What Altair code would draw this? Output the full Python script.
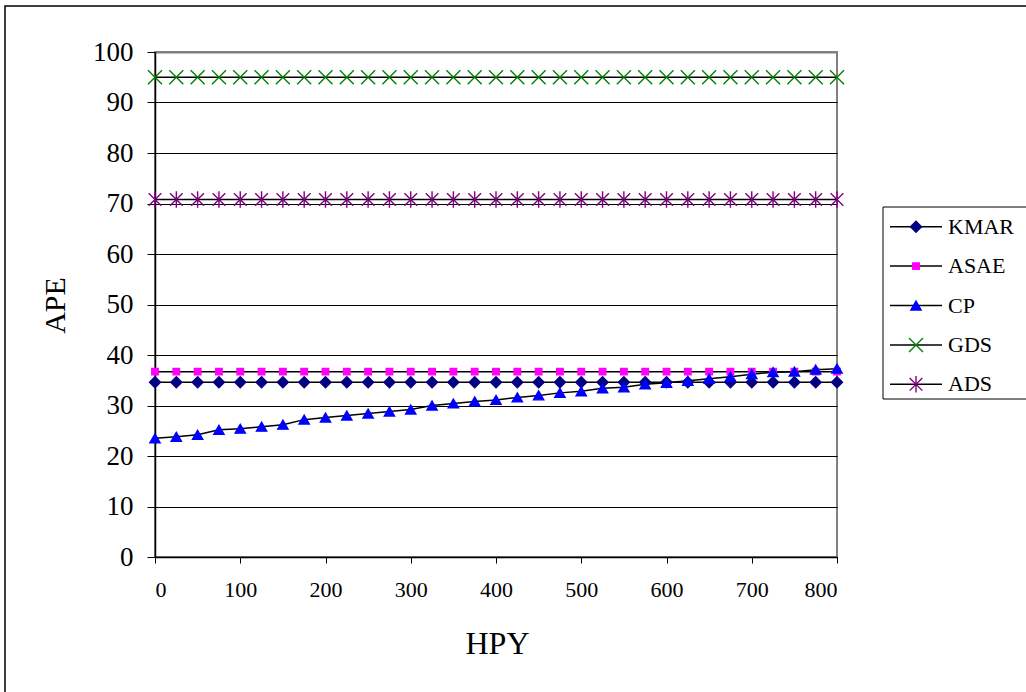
import altair as alt
import pandas as pd

series = ["KMAR", "ASAE", "CP", "GDS", "ADS"]
colors = ["#000080", "#FF00FF", "#0000FF", "#008000", "#800080"]
shapes = ["diamond", "square", "triangle-up",
          "M-1,-1L1,1M-1,1L1,-1",
          "M-1,-1L1,1M-1,1L1,-1M0,-1.3L0,1.3"]
sizes = [120, 42, 105, 196, 160]

hpy = [0, 25, 50, 75, 100, 125, 150, 175, 200, 225, 250, 275, 300, 325, 350,
       375, 400, 425, 450, 475, 500, 525, 550, 575, 600, 625, 650, 675, 700,
       725, 750, 775, 800]
kmar = [34.6] * 33
asae = [36.7] * 33
cp = [23.5, 23.8, 24.2, 25.2, 25.4, 25.8, 26.2, 27.2, 27.6, 28.0, 28.4, 28.8,
      29.2, 30.0, 30.4, 30.8, 31.1, 31.6, 32.0, 32.5, 32.8, 33.4, 33.6, 34.2,
      34.5, 34.9, 35.3, 35.7, 36.2, 36.6, 36.7, 37.1, 37.3]
gds = [95.0] * 33
ads = [70.8] * 33

values = {"KMAR": kmar, "ASAE": asae, "CP": cp, "GDS": gds, "ADS": ads}
rows = []
for s in series:
    for x, v in zip(hpy, values[s]):
        rows.append({"HPY": x, "APE": v, "series": s})
df = pd.DataFrame(rows)

FONT = "Liberation Serif"

color_scale = alt.Scale(domain=series, range=colors)
shape_scale = alt.Scale(domain=series, range=shapes)
size_scale = alt.Scale(type="ordinal", domain=series, range=sizes)

x_enc = alt.X("HPY:Q", scale=alt.Scale(domain=[0, 800], nice=False),
              axis=alt.Axis(values=[0, 100, 200, 300, 400, 500, 600, 700, 800],
                            grid=False, tickSize=6, labelPadding=16,
                            labelFontSize=22, title="HPY", titleFontSize=32,
                            titleX=342, titleY=86, titleBaseline="middle",
                            titleAlign="center"))
y_enc = alt.Y("APE:Q", scale=alt.Scale(domain=[0, 100], nice=False),
              axis=alt.Axis(values=list(range(0, 101, 10)), grid=True,
                            gridColor={"condition": {"test": "datum.value === 100",
                                                     "value": "#808080"},
                                       "value": "black"},
                            gridWidth={"condition": {"test": "datum.value === 100",
                                                     "value": 2},
                                       "value": 1},
                            tickSize=8, labelPadding=14, labelFontSize=27,
                            title="APE", titleFontSize=30, titleX=-100,
                            titleY=253, titleAngle=270, titleBaseline="middle",
                            titleAlign="center"))

base = alt.Chart(df)
lines = base.mark_line(color="black", strokeWidth=1.5).encode(
    x=x_enc, y=y_enc, detail="series:N",
    order=alt.Order("HPY:Q"))
points = base.mark_point(filled=True, strokeWidth=1.4, opacity=1).encode(
    x="HPY:Q", y="APE:Q",
    fill=alt.Fill("series:N", scale=color_scale, legend=None),
    stroke=alt.Stroke("series:N", scale=color_scale, legend=None),
    shape=alt.Shape("series:N", scale=shape_scale, legend=None),
    size=alt.Size("series:N", scale=size_scale, legend=None))
main = alt.layer(lines, points)

one = pd.DataFrame({"k": [0]})
frame = alt.Chart(one).mark_rect(fill=None, stroke="black", strokeWidth=1.5).encode(
    x=alt.value(-150), x2=alt.value(880), y=alt.value(-46), y2=alt.value(660))
legend_box = alt.Chart(one).mark_rect(fill="white", stroke="black", strokeWidth=1).encode(
    x=alt.value(728), x2=alt.value(880), y=alt.value(155), y2=alt.value(347))

leg_df = pd.DataFrame({"series": series})
leg_y = alt.Y("series:N", scale=alt.Scale(type="point", domain=series,
                                           range=[174.7, 332.3], padding=0),
              axis=None)
leg_rules = alt.Chart(leg_df).mark_rule(color="black", strokeWidth=1.5).encode(
    x=alt.value(735), x2=alt.value(787), y=leg_y)
leg_pts = alt.Chart(leg_df).mark_point(filled=True, strokeWidth=1.4, opacity=1).encode(
    x=alt.value(761), y=leg_y,
    fill=alt.Fill("series:N", scale=color_scale, legend=None),
    stroke=alt.Stroke("series:N", scale=color_scale, legend=None),
    shape=alt.Shape("series:N", scale=shape_scale, legend=None),
    size=alt.Size("series:N", scale=size_scale, legend=None))
leg_text = alt.Chart(leg_df).mark_text(align="left", baseline="middle",
                                       font=FONT, fontSize=22, color="black").encode(
    x=alt.value(793), y=leg_y, text="series:N")
legend = alt.layer(legend_box, leg_rules, leg_pts, leg_text)

chart = alt.layer(frame, main, legend).resolve_scale(
    y="independent"
).properties(
    width=682, height=505,
    autosize=alt.AutoSizeParams(type="none"),
    padding={"left": 155, "top": 52, "right": 189, "bottom": 135},
    background="white",
).configure_view(
    stroke="#808080", strokeWidth=2
).configure_axis(
    labelFont=FONT, titleFont=FONT, labelColor="black", titleColor="black",
    domainColor="black", domainWidth=1.5, tickColor="black", tickWidth=1,
    titleFontWeight="normal"
)

chart.save("out.html", embed_options={"renderer": "svg", "actions": False})
